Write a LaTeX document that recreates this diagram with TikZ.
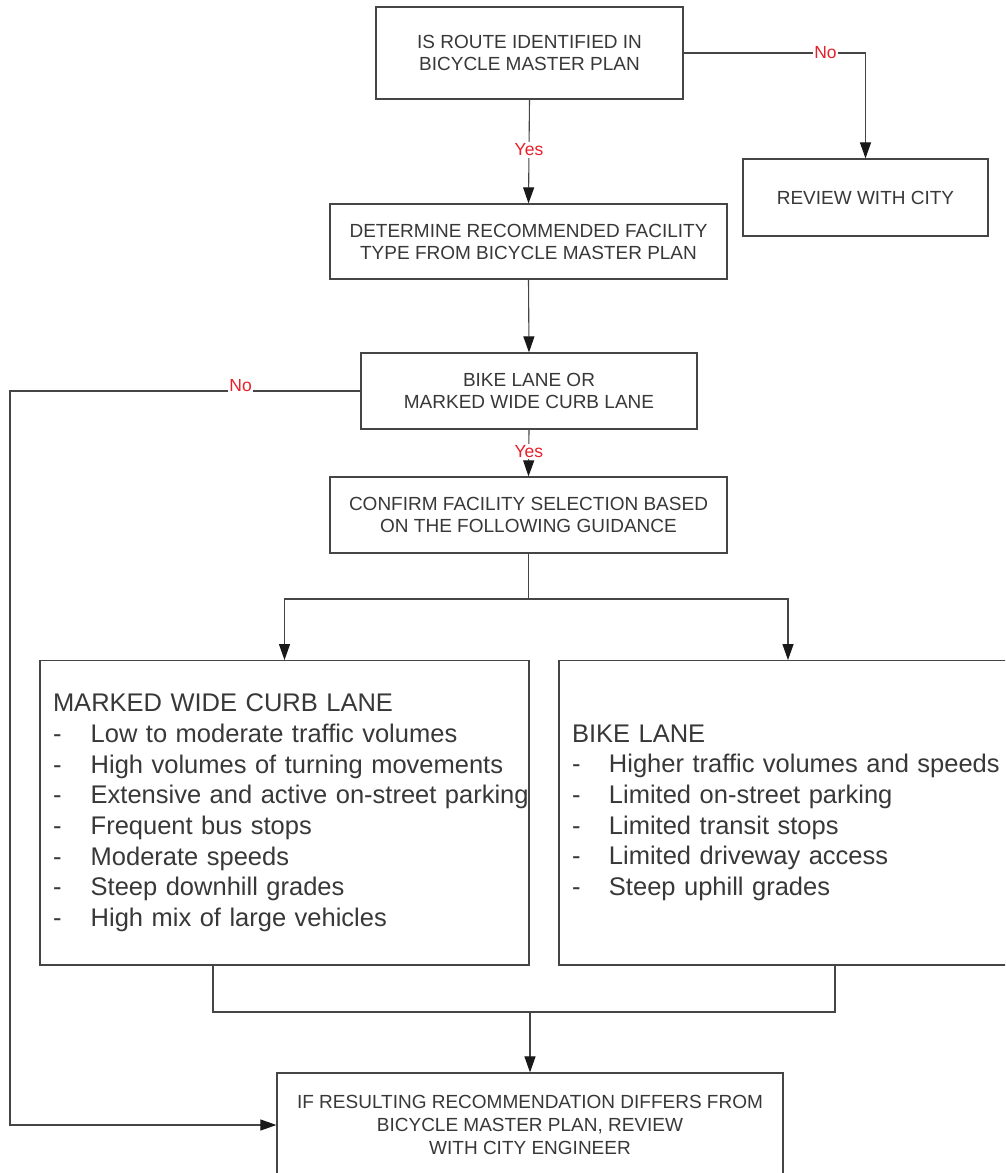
\documentclass[tikz,border=0pt]{standalone}
\usepackage{fontspec}
\setmainfont{Liberation Sans}
\usetikzlibrary{arrows.meta}
\definecolor{txtcol}{HTML}{383838}
\definecolor{lncol}{HTML}{454545}
\definecolor{labcol}{HTML}{E8202A}
\begin{document}
\begin{tikzpicture}[x=1pt,y=-1pt,
  box/.style={draw=lncol, line width=1.2pt, rectangle, text=txtcol,
    font=\fontsize{19}{22}\selectfont, align=center, inner sep=0pt},
  big/.style={draw=lncol, line width=1.2pt, rectangle, text=txtcol,
    font=\fontsize{25.5}{30.7}\selectfont, align=left, inner xsep=13pt, inner ysep=0pt},
  conn/.style={draw=lncol, line width=1.1pt},
  arr/.style={conn, -{Triangle[length=16pt,width=11pt,color=black!90]}},
  lbl/.style={text=labcol, font=\fontsize{17.5}{19}\selectfont, fill=white, inner sep=1.5pt}]
\useasboundingbox (0,0) rectangle (1005,1173);
\clip (0,0) rectangle (1005,1173);
\fill[white] (0,0) rectangle (1005,1173);

\node[box, minimum width=307pt, minimum height=92pt] (b1) at (529.5,53)
  {IS ROUTE IDENTIFIED IN\\BICYCLE MASTER PLAN};
\node[box, minimum width=245pt, minimum height=77pt] (b2) at (865.5,197.5)
  {REVIEW WITH CITY};
\node[box, minimum width=397pt, minimum height=75pt] (b3) at (528.5,241.5)
  {DETERMINE RECOMMENDED FACILITY\\TYPE FROM BICYCLE MASTER PLAN};
\node[box, minimum width=336pt, minimum height=76pt] (b4) at (529,391)
  {BIKE LANE OR\\MARKED WIDE CURB LANE};
\node[box, minimum width=397pt, minimum height=76pt] (b5) at (528.5,515)
  {CONFIRM FACILITY SELECTION BASED\\ON THE FOLLOWING GUIDANCE};
\node[big, text width=463pt, minimum height=304.3pt] (lb) at (284.5,812.8)
  {\mbox{MARKED WIDE CURB LANE}\\
   \mbox{\makebox[37.7pt][l]{-}Low to moderate traffic volumes}\\
   \mbox{\makebox[37.7pt][l]{-}High volumes of turning movements}\\
   \mbox{\makebox[37.7pt][l]{-}Extensive and active on-street parking}\\
   \mbox{\makebox[37.7pt][l]{-}Frequent bus stops}\\
   \mbox{\makebox[37.7pt][l]{-}Moderate speeds}\\
   \mbox{\makebox[37.7pt][l]{-}Steep downhill grades}\\
   \mbox{\makebox[37.7pt][l]{-}High mix of large vehicles}};
\node[big, text width=432pt, minimum height=304.3pt] (rb) at (788,812.8)
  {\mbox{BIKE LANE}\\
   \mbox{\makebox[37pt][l]{-}Higher traffic volumes and speeds}\\
   \mbox{\makebox[37pt][l]{-}Limited on-street parking}\\
   \mbox{\makebox[37pt][l]{-}Limited transit stops}\\
   \mbox{\makebox[37pt][l]{-}Limited driveway access}\\
   \mbox{\makebox[37pt][l]{-}Steep uphill grades}};
\node[box, minimum width=506pt, minimum height=104pt, font=\fontsize{19}{23}\selectfont] (b6) at (530,1125)
  {IF RESULTING RECOMMENDATION DIFFERS FROM\\BICYCLE MASTER PLAN, REVIEW\\WITH CITY ENGINEER};

% connectors
\draw[arr] (b1.east) -| node[lbl, pos=0.39]{No} (b2.north);
\draw[arr] (b1.south) -- node[lbl, pos=0.486]{Yes} (b3.north);
\draw[arr] (b3.south) -- (b4.north);
\draw[arr] (b4.south) -- node[lbl, pos=0.46]{Yes} (b5.north);
\coordinate (lc) at (10,391);
\draw[arr] (b4.west) -- node[lbl, pos=0.342, anchor=base]{No} (lc) |- (b6.west);
\coordinate (sp) at (528.5,599);
\draw[conn] (b5.south) -- (sp);
\draw[arr] (sp) -| (lb.north);
\draw[arr] (sp) -| (rb.north);
\coordinate (ml) at (213,1012);
\coordinate (mr) at (835,1012);
\coordinate (mm) at (530,1012);
\draw[conn] (lb.south -| ml) -- (ml) -- (mr) -- (rb.south -| mr);
\draw[arr] (mm) -- (b6.north);
\end{tikzpicture}
\end{document}
